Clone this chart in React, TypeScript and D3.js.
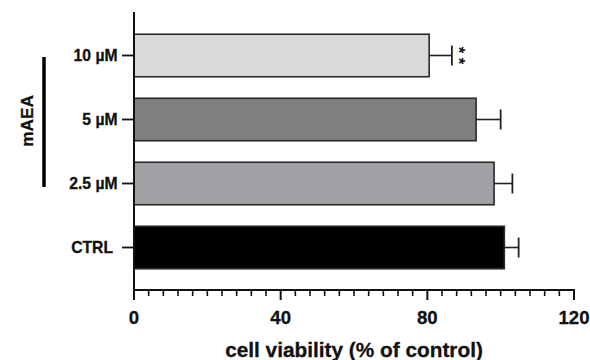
import React from "react";
import * as d3 from "d3";

const categories = ["10 µM", "5 µM", "2.5 µM", "CTRL"];
const means = [80.5, 93.3, 98.2, 101.0];
const errors = [6.2, 6.7, 5.0, 3.9];
const fills = ["#d9d9d9", "#7f7f7f", "#a0a0a5", "#000000"];
const xTicks = [0, 40, 80, 120];
const xMinorStep = 4;
const signif = ["**", "", "", ""];
const groupLabel = "mAEA";
const xTitle = "cell viability (% of control)";

const W = 590;
const H = 360;
const FONT = "'Liberation Sans', Arial, Helvetica, sans-serif";

export default function App() {
  const x = d3.scaleLinear().domain([0, 120]).range([134, 574]);
  const y = d3.scaleBand<string>().domain(categories).range([13, 290]).paddingInner(0.336).paddingOuter(0.332);
  const minor = d3.range(0, 120 + 0.001, xMinorStep).filter((v) => !xTicks.includes(v));
  const x0 = x(0);
  const axisY = 290;
  const bw = y.bandwidth();

  return (
    <svg
      width={W}
      height={H}
      style={{ position: "absolute", left: 0, top: 0, background: "#fff" }}
      fontFamily={FONT}
    >
      <rect x={0} y={0} width={W} height={H} fill="#fff" />
      {/* bars */}
      {categories.map((c, i) => {
        const yc = (y(c) as number) + bw / 2;
        const xe = x(means[i] + errors[i]);
        return (
          <g key={c}>
            <rect
              x={x0}
              y={y(c)}
              width={x(means[i]) - x0}
              height={bw}
              fill={fills[i]}
              stroke="#2a2a2a"
              strokeWidth={1.6}
            />
            <line x1={x(means[i])} x2={xe} y1={yc} y2={yc} stroke="#222" strokeWidth={1.6} />
            <line x1={xe} x2={xe} y1={yc - 10} y2={yc + 10} stroke="#222" strokeWidth={1.8} />
            {signif[i] && (
              <text
                transform={`translate(${xe + 1},${yc + 2.2}) rotate(90)`}
                textAnchor="middle"
                fontSize={17}
                fontWeight="bold"
                letterSpacing={4.4}
                fill="#111"
              >
                {signif[i]}
              </text>
            )}
            {/* y tick */}
            <line x1={x0 - 12} x2={x0} y1={yc} y2={yc} stroke="#111" strokeWidth={1.8} />
            <text
              x={c === "CTRL" ? x0 - 21 : x0 - 16.5}
              y={yc}
              dy="0.37em"
              textAnchor="end"
              fontSize={15.7}
              fontWeight="bold"
              fill="#111"
              stroke="#111"
              strokeWidth={0.3}
            >
              {c}
            </text>
          </g>
        );
      })}
      {/* axes */}
      <line x1={x0} x2={x0} y1={12} y2={axisY + 1} stroke="#111" strokeWidth={2} />
      <line x1={x0 - 1} x2={x(120) + 1} y1={axisY} y2={axisY} stroke="#111" strokeWidth={2} />
      {minor.map((v) => (
        <line key={"m" + v} x1={x(v)} x2={x(v)} y1={axisY} y2={axisY + 6} stroke="#111" strokeWidth={1.6} />
      ))}
      {xTicks.map((v) => (
        <g key={"t" + v}>
          <line x1={x(v)} x2={x(v)} y1={axisY} y2={axisY + 10} stroke="#111" strokeWidth={2} />
          <text
            x={x(v)}
            y={323.5}
            textAnchor="middle"
            fontSize={18.6}
            fontWeight="bold"
            fill="#111"
            stroke="#111"
            strokeWidth={0.3}
          >
            {v}
          </text>
        </g>
      ))}
      <text
        x={(x(0) + x(120)) / 2}
        y={357}
        textAnchor="middle"
        fontSize={20.8}
        fontWeight="bold"
        fill="#111"
        stroke="#111"
        strokeWidth={0.3}
      >
        {xTitle}
      </text>
      {/* group label */}
      <line x1={44} x2={44} y1={57} y2={187} stroke="#000" strokeWidth={3.5} />
      <text
        transform={`translate(32.5,121) rotate(-90)`}
        textAnchor="middle"
        fontSize={17.2}
        fontWeight="bold"
        fill="#111"
        stroke="#111"
        strokeWidth={0.3}
      >
        {groupLabel}
      </text>
    </svg>
  );
}
